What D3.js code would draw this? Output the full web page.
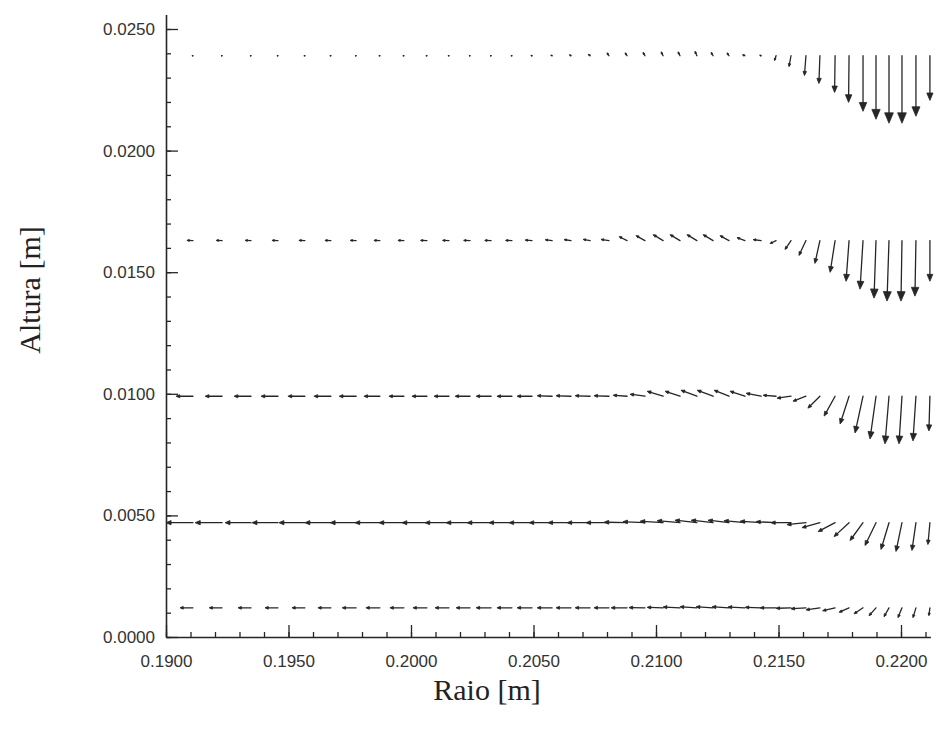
<!DOCTYPE html>
<html>
<head>
<meta charset="utf-8">
<script src="https://cdn.jsdelivr.net/npm/d3@7"></script>
<style>
  html, body { margin: 0; padding: 0; background: #fff; }
  svg { display: block; }
  .tick text { font-family: "Liberation Sans", Arial, sans-serif; font-size: 17px; fill: #333; }
  .axis-title { font-family: "Liberation Serif", "Times New Roman", serif; font-size: 30px; fill: #222; }
</style>
</head>
<body>
<svg id="chart" width="942" height="732"></svg>
<script>
// Radial positions of the mesh nodes [m]
const radii = [
  0.19110, 0.19229, 0.19347, 0.19457, 0.19567, 0.19673, 0.19776, 0.19873, 0.19971, 0.20065,
  0.20155, 0.20241, 0.20327, 0.20412, 0.20494, 0.20576, 0.20653, 0.20731, 0.20808, 0.20882,
  0.20955, 0.21029, 0.21098, 0.21167, 0.21233, 0.21298, 0.21363, 0.21429, 0.21490, 0.21551,
  0.21612, 0.21669, 0.21731, 0.21788, 0.21845, 0.21898, 0.21951, 0.22004, 0.22061, 0.22118
];

// Heights of the sampled node rows [m]
const heights = [0.0239, 0.0163, 0.0099, 0.0047, 0.0012];

// Radial velocity u [mm/s], one array per row (top to bottom)
const u1 = [-0.10,-0.10,-0.10,-0.10,-0.10,-0.10,-0.10,-0.10,-0.10,-0.10,-0.10,-0.10,-0.10,-0.10,-0.12,-0.14,-0.16,-0.18,-0.20,-0.20,
            -0.20,-0.20,-0.20,-0.20,-0.20,-0.20,-0.25,-0.15,-0.15,-0.20,-0.15,-0.10,-0.05,-0.05,0.00,0.00,0.00,0.00,0.00,0.00];
const u2 = [-0.60,-0.60,-0.60,-0.60,-0.60,-0.60,-0.60,-0.60,-0.60,-0.65,-0.65,-0.65,-0.65,-0.65,-0.70,-0.70,-0.70,-0.70,-0.80,-0.80,
            -0.90,-1.00,-1.00,-1.00,-1.00,-0.90,-0.80,-0.80,-0.60,-0.60,-0.70,-0.50,-0.50,-0.30,-0.30,-0.20,-0.20,-0.10,-0.10,0.00];
const u3 = [-1.70,-1.70,-1.70,-1.70,-1.70,-1.70,-1.70,-1.60,-1.50,-1.50,-1.50,-1.50,-1.50,-1.50,-1.50,-1.50,-1.50,-1.50,-1.50,-1.40,
            -1.50,-1.60,-1.50,-1.60,-1.60,-1.50,-1.50,-1.50,-1.30,-1.40,-1.30,-1.20,-1.10,-0.90,-0.80,-0.60,-0.40,-0.30,-0.30,-0.10];
const u4 = [-2.70,-2.70,-2.60,-2.60,-2.60,-2.60,-2.60,-2.50,-2.50,-2.50,-2.40,-2.40,-2.40,-2.30,-2.30,-2.30,-2.30,-2.30,-2.30,-2.30,
            -2.20,-2.30,-2.30,-2.20,-2.20,-2.10,-2.10,-2.10,-2.00,-2.00,-1.90,-1.80,-1.70,-1.50,-1.30,-1.10,-0.80,-0.60,-0.40,-0.20];
const u5 = [-1.30,-1.30,-1.30,-1.30,-1.30,-1.30,-1.40,-1.40,-1.40,-1.40,-1.40,-1.40,-1.50,-1.50,-1.50,-1.50,-1.50,-1.50,-1.50,-1.60,
            -1.60,-1.60,-1.70,-1.70,-1.70,-1.70,-1.70,-1.60,-1.60,-1.50,-1.50,-1.40,-1.25,-1.00,-0.90,-0.70,-0.50,-0.40,-0.30,-0.10];

// Axial velocity w [mm/s], one array per row (top to bottom)
const w1 = [0.00,0.00,0.00,0.00,0.00,0.00,0.00,0.00,0.00,0.00,0.00,0.00,0.00,0.00,0.03,0.06,0.10,0.15,0.30,0.30,
            0.35,0.40,0.40,0.45,0.35,0.30,0.10,0.05,-0.50,-1.10,-2.00,-2.80,-3.70,-4.70,-5.60,-6.40,-6.80,-6.80,-6.10,-4.50];
const w2 = [0.02,0.02,0.02,0.02,0.02,0.02,0.02,0.02,0.02,0.02,0.02,0.02,0.02,0.02,0.05,0.08,0.10,0.12,0.12,0.40,
            0.50,0.60,0.60,0.60,0.60,0.50,0.30,0.10,-0.30,-0.90,-1.50,-2.30,-3.20,-4.10,-4.90,-5.80,-6.10,-6.10,-5.60,-4.10];
const w3 = [0.00,0.00,0.00,0.00,0.00,0.00,0.00,0.00,0.00,0.00,0.00,0.00,0.00,0.00,0.00,0.05,0.05,0.05,0.05,0.10,
            0.20,0.50,0.50,0.60,0.60,0.60,0.50,0.30,0.10,-0.20,-0.50,-1.20,-2.00,-2.80,-3.70,-4.30,-4.80,-4.80,-4.50,-3.50];
const w4 = [0.00,0.00,0.00,0.00,0.00,0.00,0.00,0.00,0.00,0.00,0.00,0.00,0.00,0.00,0.00,0.00,0.00,0.00,0.00,0.05,
            0.10,0.15,0.20,0.25,0.25,0.25,0.20,0.15,0.10,0.00,-0.20,-0.50,-0.90,-1.40,-1.80,-2.30,-2.70,-2.90,-2.80,-2.20];
const w5 = [0.00,0.00,0.00,0.00,0.00,0.00,0.00,0.00,0.00,0.00,0.00,0.00,0.00,0.00,0.00,0.00,0.00,0.00,0.00,0.00,
            0.02,0.05,0.08,0.10,0.10,0.10,0.08,0.05,0.00,-0.05,-0.10,-0.20,-0.30,-0.45,-0.60,-0.80,-0.90,-1.00,-1.00,-0.80];

const uRows = [u1, u2, u3, u4, u5];
const wRows = [w1, w2, w3, w4, w5];

// Axis ticks and labels
const xTicks = [0.1900, 0.1950, 0.2000, 0.2050, 0.2100, 0.2150, 0.2200];
const yTicks = [0.0000, 0.0050, 0.0100, 0.0150, 0.0200, 0.0250];
const xTitle = "Raio [m]";
const yTitle = "Altura [m]";

// Vector length: metres of plot space per mm/s of velocity
const arrowScale = 0.000408;

const svg = d3.select("#chart");
const x = d3.scaleLinear().domain([0.19, 0.2212]).range([166, 930.4]);
const y = d3.scaleLinear().domain([0, 0.0256]).range([637, 14.4]);
const fmt = d3.format(".4f");
const ink = "#262626";

// Minor ticks every 0.001 m
const xMinor = d3.range(0, 32).map(i => 0.19 + i * 0.001);
const yMinor = d3.range(0, 26).map(i => i * 0.001);

svg.append("g")
  .attr("transform", `translate(0,${y(0)})`)
  .call(d3.axisBottom(x).tickValues(xMinor).tickSizeInner(-5).tickSizeOuter(0).tickFormat(""))
  .call(g => g.select(".domain").remove());
svg.append("g")
  .attr("transform", `translate(${x(0.19)},0)`)
  .call(d3.axisLeft(y).tickValues(yMinor).tickSizeInner(-5).tickSizeOuter(0).tickFormat(""))
  .call(g => g.select(".domain").remove());

svg.append("g")
  .attr("transform", `translate(0,${y(0)})`)
  .call(d3.axisBottom(x).tickValues(xTicks).tickSizeInner(-12).tickSizeOuter(0).tickPadding(18).tickFormat(fmt));
svg.append("g")
  .attr("transform", `translate(${x(0.19)},0)`)
  .call(d3.axisLeft(y).tickValues(yTicks).tickSizeInner(-12).tickSizeOuter(0).tickPadding(11).tickFormat(fmt));

svg.selectAll(".domain").attr("stroke", ink).attr("stroke-width", 1.6);
svg.selectAll(".tick line").attr("stroke", ink).attr("stroke-width", 1.3);

// Axis titles
svg.append("text").attr("class", "axis-title")
  .attr("x", 487).attr("y", 700).attr("text-anchor", "middle").text(xTitle);
svg.append("text").attr("class", "axis-title")
  .attr("transform", "translate(40,290) rotate(-90)")
  .attr("text-anchor", "middle").text(yTitle);

// Velocity vectors: tail at the node, tip displaced by the scaled velocity
const arrows = [];
heights.forEach((z, i) => {
  radii.forEach((r, j) => {
    arrows.push({ r, z, u: uRows[i][j], w: wRows[i][j] });
  });
});

const field = svg.append("g");
arrows.forEach(a => {
  const x0 = x(a.r), y0 = y(a.z);
  const x1 = x(a.r + a.u * arrowScale), y1 = y(a.z + a.w * arrowScale);
  const dx = x1 - x0, dy = y1 - y0;
  const L = Math.hypot(dx, dy);
  if (L < 0.3) return;
  const ux = dx / L, uy = dy / L;
  const hl = Math.min(L * 0.9, 1.6 + 0.13 * L);
  const hw = hl * 0.42;
  const bx = x1 - ux * hl, by = y1 - uy * hl;
  field.append("line")
    .attr("x1", x0).attr("y1", y0)
    .attr("x2", x1 - ux * hl * 0.5).attr("y2", y1 - uy * hl * 0.5)
    .attr("stroke", ink).attr("stroke-width", 1.3).attr("stroke-linecap", "round");
  field.append("path")
    .attr("d", `M${x1},${y1}L${bx - uy * hw},${by + ux * hw}L${bx + uy * hw},${by - ux * hw}Z`)
    .attr("fill", ink).attr("stroke", ink).attr("stroke-width", 0.8).attr("stroke-linejoin", "round");
});
</script>
</body>
</html>
